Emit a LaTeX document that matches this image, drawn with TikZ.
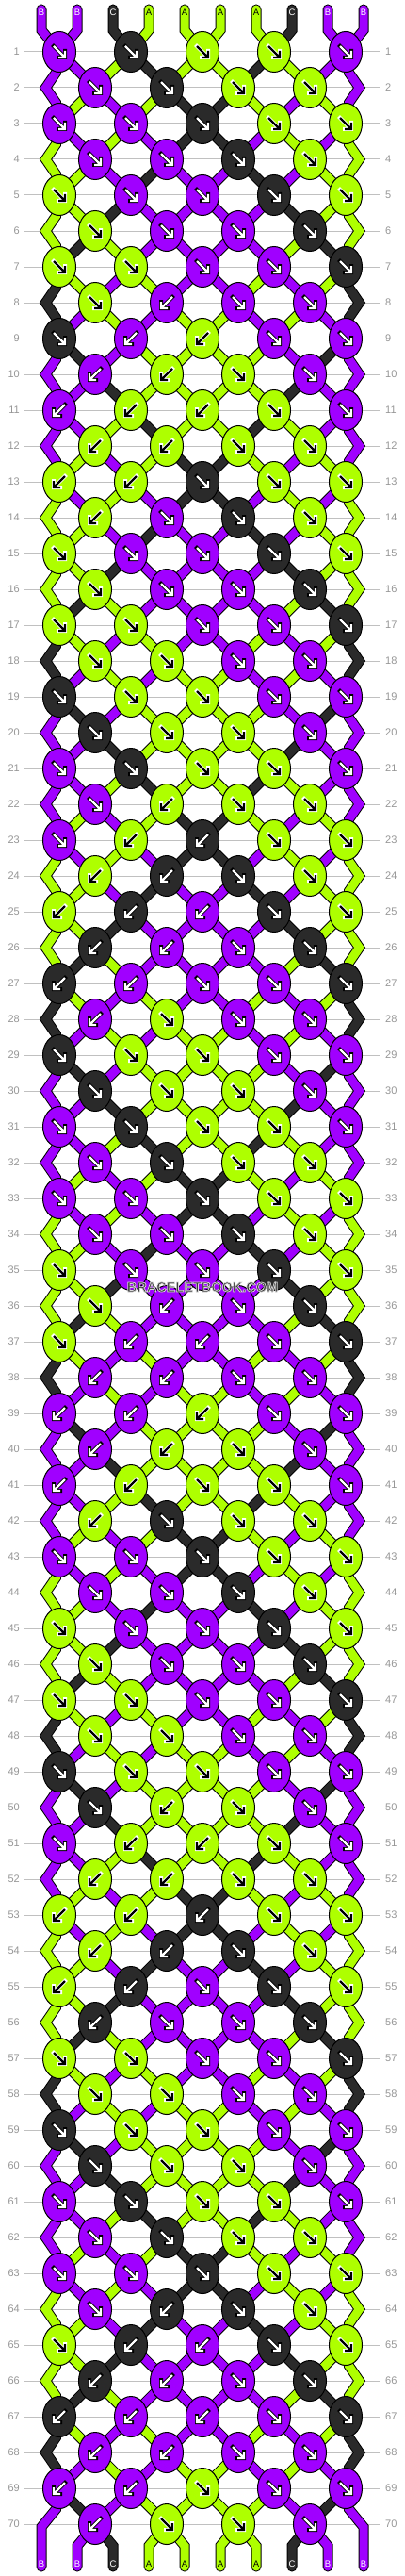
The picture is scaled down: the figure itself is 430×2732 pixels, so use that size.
\documentclass[tikz,border=0pt]{standalone}
\usepackage{fontspec}
\setmainfont{Liberation Sans}
\definecolor{cB}{RGB}{160,0,255}
\definecolor{cC}{RGB}{42,42,42}
\definecolor{cA}{RGB}{174,255,0}
\definecolor{rowgray}{RGB}{192,192,192}
\definecolor{numgray}{RGB}{150,150,150}
\definecolor{wmgray}{RGB}{60,60,60}
\makeatletter
\def\halostart{\pgfsys@beginscope\pgfsys@invoke{2 Tr 0.85 0.85 0.85 RG 0.7 w}}
\def\haloend{\pgfsys@endscope}
\makeatother
\tikzset{
  strout/.style={line width=11pt, draw=black, line join=miter},
  strin/.style={line width=9pt, line join=miter},
  knotst/.style={draw=black, line width=1pt},
  rowline/.style={draw=rowgray, line width=1pt},
  rownum/.style={text=numgray, font=\fontsize{11}{13}\selectfont, inner sep=0pt},
  strlabel/.style={font=\fontsize{9.5}{10}\selectfont, inner sep=0pt},
  arrout/.style={line width=4pt, line join=miter, line cap=rect},
  arrin/.style={line width=2.2pt, line join=miter},
  watermark/.style={text=wmgray, font=\bfseries\fontsize{14.5}{16}\selectfont, inner sep=0pt}
}
\def\colname#1{\ifcase#1\or cB\or cC\or cA\fi}
\def\labname#1{\ifcase#1\or B\or C\or A\fi}
\def\labcol#1{\ifcase#1\or white\or white\or black\fi}
\def\rowlist{
 {R,R,R,R,R},{R,R,R,R},{R,R,R,R,R},{R,R,R,R},{R,R,R,R,R},{R,R,R,R},{R,R,R,R,R},
 {R,L,R,R},{R,L,L,R,R},{L,L,R,R},{L,L,L,R,R},{L,L,R,R},{L,L,R,R,R},{L,R,R,R},
 {R,R,R,R,R},{R,R,R,R},{R,R,R,R,R},{R,R,R,R},{R,R,R,R,R},{R,R,R,R},{R,R,R,R,R},
 {R,L,R,R},{R,L,L,R,R},{L,L,R,R},{L,L,L,R,R},{L,L,R,R},{L,L,R,R,R},{L,R,R,R},
 {R,R,R,R,R},{R,R,R,R},{R,R,R,R,R},{R,R,R,R},{R,R,R,R,R},{R,R,R,R},{R,R,R,R,R},
 {R,L,R,R},{R,L,L,R,R},{L,L,R,R},{L,L,L,R,R},{L,L,R,R},{L,L,R,R,R},{L,R,R,R},
 {R,R,R,R,R},{R,R,R,R},{R,R,R,R,R},{R,R,R,R},{R,R,R,R,R},{R,R,R,R},{R,R,R,R,R},
 {R,L,R,R},{R,L,L,R,R},{L,L,R,R},{L,L,L,R,R},{L,L,R,R},{L,L,R,R,R},{L,R,R,R},
 {R,R,R,R,R},{R,R,R,R},{R,R,R,R,R},{R,R,R,R},{R,R,R,R,R},{R,R,R,R},{R,R,R,R,R},
 {R,L,R,R},{R,L,L,R,R},{L,L,R,R},{L,L,L,R,R},{L,L,R,R},{L,L,R,R,R},{L,R,R,R}}
\newcommand\strdraw[3][]{%
  \draw[strout,#1] #3;%
  \draw[strin,draw=#2,#1] #3;%
}
\newcommand\initstate{%
  \foreach \p/\c in {1/1,2/1,3/2,4/3,5/3,6/3,7/3,8/2,9/1,10/1}{%
    \expandafter\xdef\csname st\p\endcsname{\c}%
    \pgfmathsetmacro\xx{44+38*(\p-1)}%
    \expandafter\xdef\csname lx\p\endcsname{\xx}%
    \expandafter\xdef\csname ly\p\endcsname{32}%
  }%
}
\newcommand\seg[3]{%
  \edef\sgp{#1}%
  \edef\lxv{\csname lx\sgp\endcsname}%
  \edef\lyv{\csname ly\sgp\endcsname}%
  \edef\sgc{\colname{\csname st\sgp\endcsname}}%
  \pgfmathtruncatemacro\sgdy{#3-\lyv}%
  \ifdim\lyv pt<33pt
    \strdraw[line cap=round]{\sgc}{(\lxv,10)--(\lxv,32)--(#2,#3)}%
  \else\ifnum\sgdy>60
    \ifnum\sgp=1
      \strdraw{\sgc}{(\lxv,\lyv)--(59.5,\lyv+22)--(48.5,\lyv+38)--(59.5,\lyv+54)--(#2,#3)}%
    \else
      \strdraw{\sgc}{(\lxv,\lyv)--(370.5,\lyv+22)--(381.5,\lyv+38)--(370.5,\lyv+54)--(#2,#3)}%
    \fi
  \else
    \strdraw{\sgc}{(\lxv,\lyv)--(#2,#3)}%
  \fi\fi
}
\newcommand\knot[4]{%
  \edef\kcol{\colname{#3}}%
  \draw[knotst, fill=\kcol] (#1,#2) ellipse [x radius=17.5pt, y radius=21.5pt];
  \ifnum#3=3 \def\ain{black}\def\aout{white}\else\def\ain{white}\def\aout{black}\fi
  \if R#4%
    \draw[arrout,draw=\aout] (#1-6,#2-6)--(#1+5,#2+5) (#1+6,#2-1)--(#1+6,#2+6)--(#1-1,#2+6);
    \draw[arrin,draw=\ain] (#1-6,#2-6)--(#1+5,#2+5) (#1+6,#2-1)--(#1+6,#2+6)--(#1-1,#2+6);
  \else
    \draw[arrout,draw=\aout] (#1+6,#2-6)--(#1-5,#2+5) (#1-6,#2-1)--(#1-6,#2+6)--(#1+1,#2+6);
    \draw[arrin,draw=\ain] (#1+6,#2-6)--(#1-5,#2+5) (#1-6,#2-1)--(#1-6,#2+6)--(#1+1,#2+6);
  \fi
}
% #1 = mode: 1 strings, 2 knots
\newcommand\dorows[1]{%
  \foreach \spec [count=\r] in \rowlist {%
    \pgfmathsetmacro\yy{55+38*(\r-1)}%
    \ifodd\r\relax\def\off{0}\else\def\off{1}\fi
    \foreach \kt [count=\k] in \spec {%
      \pgfmathtruncatemacro\pa{2*\k-1+\off}%
      \pgfmathtruncatemacro\pb{\pa+1}%
      \pgfmathsetmacro\xx{44+38*(\pa-1)+19}%
      \ifnum#1=1 \seg{\pa}{\xx}{\yy}\seg{\pb}{\xx}{\yy}\fi
      \edef\ca{\csname st\pa\endcsname}%
      \edef\cb{\csname st\pb\endcsname}%
      \if R\kt\edef\kc{\ca}\else\edef\kc{\cb}\fi
      \expandafter\xdef\csname st\pa\endcsname{\cb}%
      \expandafter\xdef\csname st\pb\endcsname{\ca}%
      \expandafter\xdef\csname lx\pa\endcsname{\xx}%
      \expandafter\xdef\csname lx\pb\endcsname{\xx}%
      \expandafter\xdef\csname ly\pa\endcsname{\yy}%
      \expandafter\xdef\csname ly\pb\endcsname{\yy}%
      \ifnum#1=2 \knot{\xx}{\yy}{\kc}{\kt}\fi
    }%
  }%
}
\begin{document}
\begin{tikzpicture}[x=1pt,y=-1pt]
\useasboundingbox (0,0) rectangle (430,2732);
\fill[white] (0,0) rectangle (430,2732);
\foreach \r in {1,...,70}{
  \pgfmathsetmacro\yy{55+38*(\r-1)}
  \draw[rowline] (26,\yy) -- (403,\yy);
  \node[rownum, anchor=east] (ln\r) at (21,\yy) {\r};
  \node[rownum, anchor=west] (rn\r) at (409,\yy) {\r};
}
% pass 1: strings
\initstate
\dorows{1}
% bottom tails
\foreach \p in {1,...,10}{
  \edef\lxv{\csname lx\p\endcsname}
  \edef\lyv{\csname ly\p\endcsname}
  \edef\cc{\csname st\p\endcsname}
  \edef\sgc{\colname{\cc}}
  \pgfmathsetmacro\xp{44+38*(\p-1)}
  \ifnum\p=1
    \strdraw[line cap=round]{\sgc}{(\lxv,\lyv)--(59.5,\lyv+22)--(44,\lyv+41)--(44,2722)}
  \else\ifnum\p=10
    \strdraw[line cap=round]{\sgc}{(\lxv,\lyv)--(370.5,\lyv+22)--(386,\lyv+41)--(386,2722)}
  \else
    \strdraw[line cap=round]{\sgc}{(\lxv,\lyv)--(\xp,\lyv+23)--(\xp,2722)}
  \fi\fi
  \edef\lc{\labcol{\cc}}
  \node[strlabel, text=\lc] (bot\p) at (\xp,2719) {\labname{\cc}};
}
% pass 2: knots
\initstate
\dorows{2}
% top labels
\foreach \p/\c in {1/1,2/1,3/2,4/3,5/3,6/3,7/3,8/2,9/1,10/1}{
  \pgfmathsetmacro\xx{44+38*(\p-1)}
  \edef\lc{\labcol{\c}}
  \node[strlabel, text=\lc] (top\p) at (\xx,13) {\labname{\c}};
}
\node[watermark] (wm) at (215,1365) {\halostart BRACELETBOOK.COM\haloend};
\end{tikzpicture}
\end{document}
